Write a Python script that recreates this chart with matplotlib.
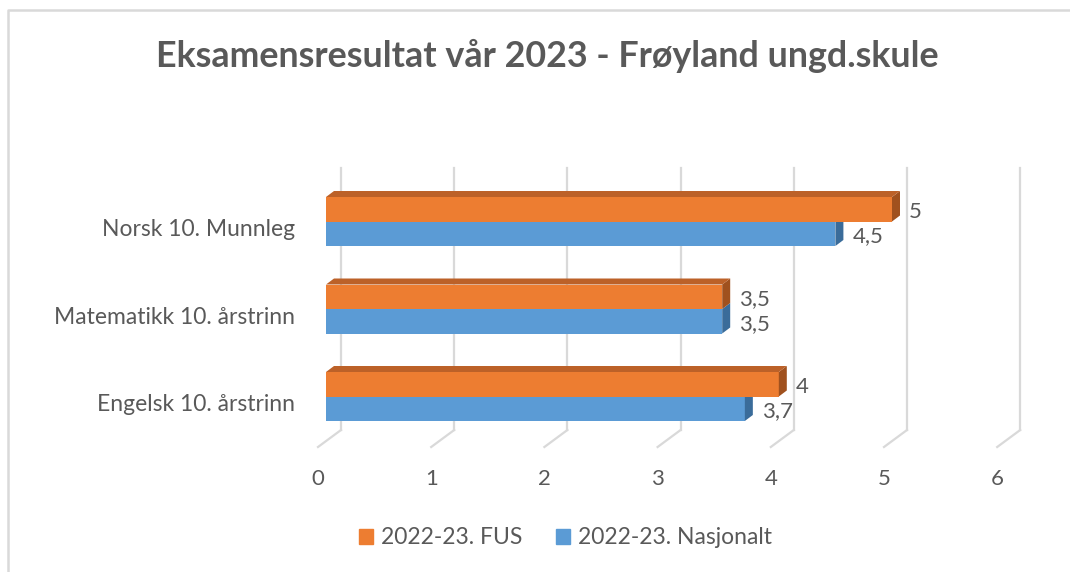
import matplotlib
matplotlib.use('Agg')
import matplotlib.pyplot as plt
from matplotlib.patches import Polygon, Patch
from matplotlib.lines import Line2D
from matplotlib.transforms import ScaledTranslation

# Data
categories = ['Engelsk 10. årstrinn', 'Matematikk 10. årstrinn', 'Norsk 10. Munnleg']
fus = [4.0, 3.5, 5.0]
nasjonalt = [3.7, 3.5, 4.5]
series_names = ['2022-23. FUS', '2022-23. Nasjonalt']
xticks = [0, 1, 2, 3, 4, 5, 6]

ORANGE = '#ED7D31'
ORANGE_TOP = '#BC6128'
ORANGE_SIDE = '#A0511E'
BLUE = '#5B9BD5'
BLUE_SIDE = '#3A6C9A'
GRID = '#D9D9D9'
TEXT = '#595959'
FONT = 'Lato'

plt.rcParams['font.family'] = [FONT, 'DejaVu Sans']

W, H, DPI = 1070, 572, 100
fig = plt.figure(figsize=(W / DPI, H / DPI), dpi=DPI)

# axes = front plane of the bars
ax = fig.add_axes([326 / W, (H - 440.25) / H, 679.2 / W, 262.5 / H])
ax.set_xlim(0, 6)
ax.set_ylim(-0.5, 2.5)
for s in ax.spines.values():
    s.set_visible(False)

px_x = 679.2 / 6
px_y = 262.5 / 3
# 3D offsets (data units)
bar_dx, bar_dy = 8 / px_x, 6 / px_y
back_dx, back_dy = 15 / px_x, 10.25 / px_y
front_dx, front_dy = -8 / px_x, -6.75 / px_y

# back wall gridlines + floor diagonals
y0, y1 = ax.get_ylim()
for k in xticks:
    ax.plot([k + back_dx, k + back_dx], [y0 + back_dy, y1 + back_dy],
            color=GRID, lw=1.6, clip_on=False, zorder=0)
    ax.plot([k + front_dx, k + back_dx], [y0 + front_dy, y0 + back_dy],
            color=GRID, lw=1.6, clip_on=False, zorder=0)

bh = 0.28


def bar3d(val, yc, face, top, side, z):
    yb, yt = yc - bh / 2, yc + bh / 2
    ax.barh(yc, val, height=bh, color=face, zorder=z, linewidth=0)
    ax.add_patch(Polygon([(val, yb), (val + bar_dx, yb + bar_dy),
                          (val + bar_dx, yt + bar_dy), (val, yt)],
                         closed=True, fc=side, ec='none', zorder=z, clip_on=False))
    if top is not None:
        ax.add_patch(Polygon([(0, yt), (bar_dx, yt + bar_dy),
                              (val + bar_dx, yt + bar_dy), (val, yt)],
                             closed=True, fc=top, ec='none', zorder=z, clip_on=False))


def fmt(v):
    return f'{v:g}'.replace('.', ',')


for i, (a, b) in enumerate(zip(fus, nasjonalt)):
    bar3d(b, i - bh / 2, BLUE, None, BLUE_SIDE, 2)
    bar3d(a, i + bh / 2, ORANGE, ORANGE_TOP, ORANGE_SIDE, 3)
    ax.annotate(fmt(a), (a, i + bh / 2), xytext=(12.2, -2), textcoords='offset points',
                ha='left', va='center', fontsize=16, color=TEXT, zorder=5)
    ax.annotate(fmt(b), (b, i - bh / 2), xytext=(12.2, -2), textcoords='offset points',
                ha='left', va='center', fontsize=16, color=TEXT, zorder=5)

# axis labels
ax.set_xticks(xticks)
ax.set_xticklabels([str(t) for t in xticks], fontsize=16, color=TEXT)
ax.set_yticks(range(len(categories)))
ax.set_yticklabels(categories, fontsize=16.5, color=TEXT)
ax.tick_params(axis='x', length=0, pad=21)
ax.tick_params(axis='y', length=0, pad=22)
for lbl in ax.get_xticklabels():
    lbl.set_transform(lbl.get_transform() + ScaledTranslation(-8 / DPI, 0, fig.dpi_scale_trans))
for lbl in ax.get_yticklabels():
    lbl.set_transform(lbl.get_transform() + ScaledTranslation(0, -6 / DPI, fig.dpi_scale_trans))

# title
fig.text(547 / W, (H - 56) / H, 'Eksamensresultat vår 2023 - Frøyland ungd.skule',
         ha='center', va='center', fontsize=25.8, fontweight='bold', color=TEXT)

# legend
handles = [Patch(color=ORANGE, label=series_names[0]),
           Patch(color=BLUE, label=series_names[1])]
fig.legend(handles=handles, loc='center', bbox_to_anchor=(565.5 / W, (H - 538) / H),
           ncol=2, frameon=False, fontsize=16.5, labelcolor=TEXT,
           handlelength=0.6, handleheight=0.6, handletextpad=0.35, columnspacing=1.5)

# chart border (left and top visible)
fig.add_artist(Line2D([7.5 / W, 7.5 / W, 1], [0, (H - 10) / H, (H - 10) / H],
                      transform=fig.transFigure, color=GRID, lw=1.8))

fig.savefig('out.png', dpi=DPI, facecolor='white')
